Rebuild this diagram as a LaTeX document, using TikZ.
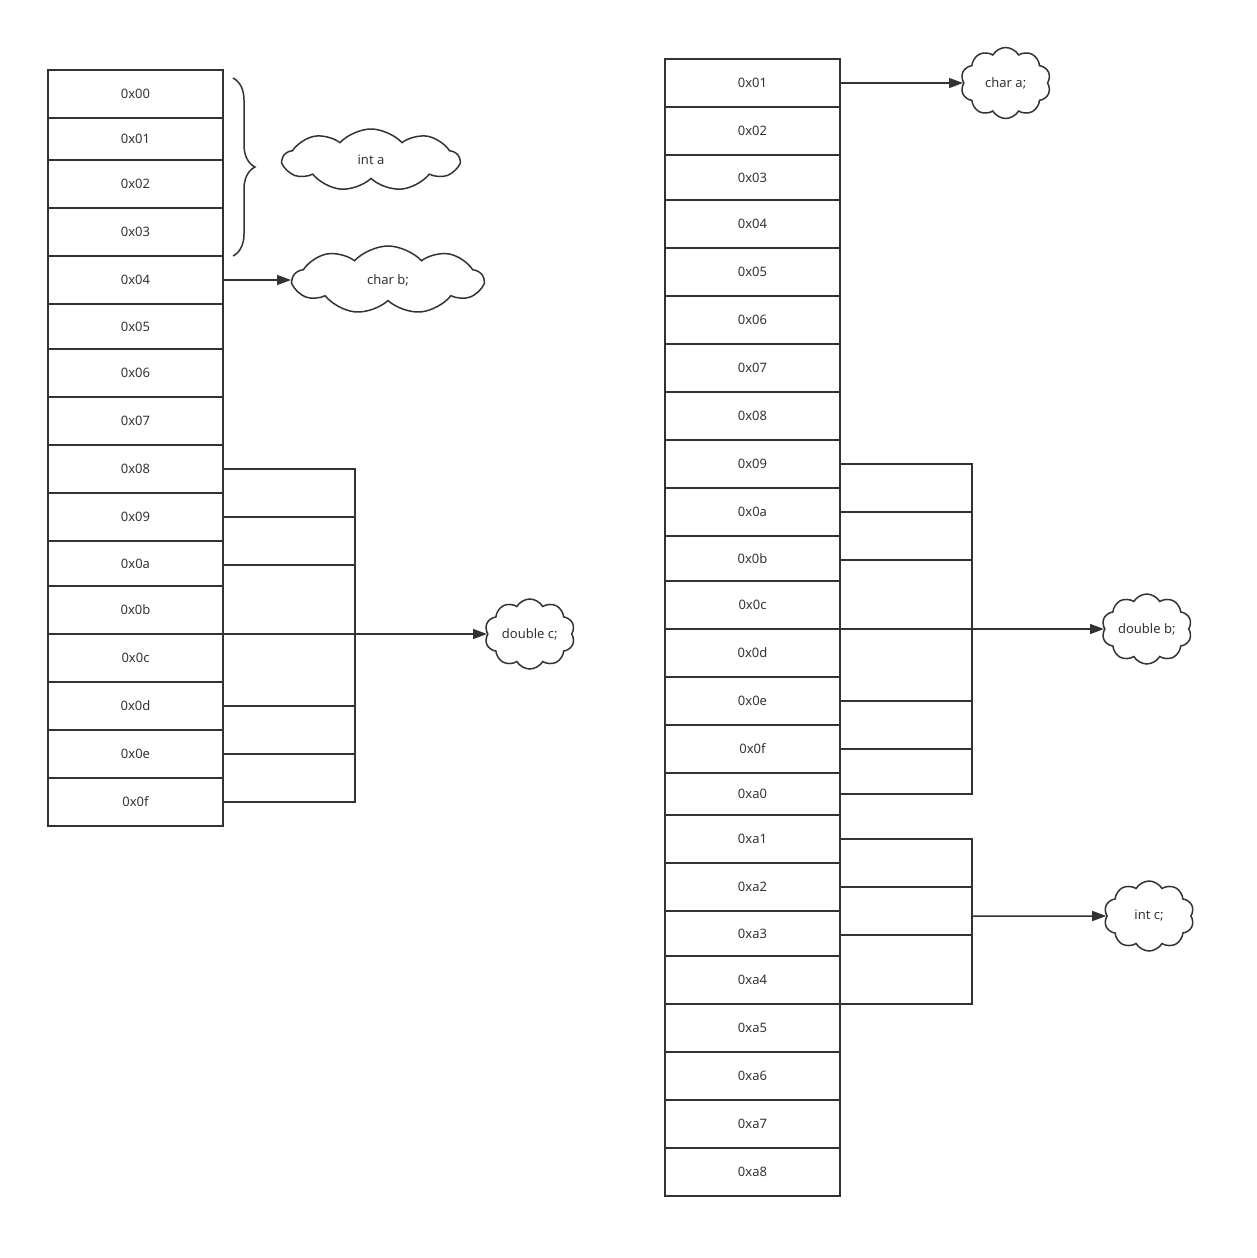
\documentclass[tikz,border=0pt]{standalone}
\usepackage{fontspec}
\setmainfont{Noto Sans}
\usepackage{xcolor}
\usepackage{tikz}
\usetikzlibrary{arrows.meta,positioning,calc}
\usetikzlibrary{shapes.symbols,decorations.pathreplacing}
\definecolor{ink}{HTML}{333333}
\tikzset{
  memcell/.style={rectangle,draw=ink,line width=1.5pt,outer sep=0pt,inner sep=0pt,
    minimum width=175pt,minimum height=48pt,text=ink,font=\fontsize{13}{15}\selectfont},
  shortcell/.style={memcell,minimum height=45pt},
  tinycell/.style={memcell,minimum height=42pt},
  memline/.style={draw=ink,line width=1.5pt},
  memarrow/.style={memline,-{Triangle[length=14pt,width=10pt]}},
  vartag/.style={cloud,cloud puffs=10,cloud puff arc=120,cloud ignores aspect,draw=ink,
    line width=1.5pt,inner sep=0pt,text=ink,font=\fontsize{13}{15}\selectfont},
  widetag/.style={vartag,cloud puffs=9,cloud puff arc=95}
}
\begin{document}
\begin{tikzpicture}[x=1pt,y=-1pt,node distance=0pt]
  \useasboundingbox (0,0) rectangle (1257,1258);
  % left memory
  \node[memcell,anchor=north] (l00) at (135.5,70) {0x00};
  \node[tinycell,below=of l00] (l01) {0x01};
  \node[memcell,below=of l01] (l02) {0x02};
  \node[memcell,below=of l02] (l03) {0x03};
  \node[memcell,below=of l03] (l04) {0x04};
  \node[shortcell,below=of l04] (l05) {0x05};
  \node[memcell,below=of l05] (l06) {0x06};
  \node[memcell,below=of l06] (l07) {0x07};
  \node[memcell,below=of l07] (l08) {0x08};
  \node[memcell,below=of l08] (l09) {0x09};
  \node[shortcell,below=of l09] (l0a) {0x0a};
  \node[memcell,below=of l0a] (l0b) {0x0b};
  \node[memcell,below=of l0b] (l0c) {0x0c};
  \node[memcell,below=of l0c] (l0d) {0x0d};
  \node[memcell,below=of l0d] (l0e) {0x0e};
  \node[memcell,below=of l0e] (l0f) {0x0f};
  % right memory
  \node[memcell,anchor=north] (r01) at (752.5,59) {0x01};
  \node[memcell,below=of r01] (r02) {0x02};
  \node[shortcell,below=of r02] (r03) {0x03};
  \node[memcell,below=of r03] (r04) {0x04};
  \node[memcell,below=of r04] (r05) {0x05};
  \node[memcell,below=of r05] (r06) {0x06};
  \node[memcell,below=of r06] (r07) {0x07};
  \node[memcell,below=of r07] (r08) {0x08};
  \node[memcell,below=of r08] (r09) {0x09};
  \node[memcell,below=of r09] (r0a) {0x0a};
  \node[shortcell,below=of r0a] (r0b) {0x0b};
  \node[memcell,below=of r0b] (r0c) {0x0c};
  \node[memcell,below=of r0c] (r0d) {0x0d};
  \node[memcell,below=of r0d] (r0e) {0x0e};
  \node[memcell,below=of r0e] (r0f) {0x0f};
  \node[tinycell,below=of r0f] (ra0) {0xa0};
  \node[memcell,below=of ra0] (ra1) {0xa1};
  \node[memcell,below=of ra1] (ra2) {0xa2};
  \node[shortcell,below=of ra2] (ra3) {0xa3};
  \node[memcell,below=of ra3] (ra4) {0xa4};
  \node[memcell,below=of ra4] (ra5) {0xa5};
  \node[memcell,below=of ra5] (ra6) {0xa6};
  \node[memcell,below=of ra6] (ra7) {0xa7};
  \node[memcell,below=of ra7] (ra8) {0xa8};
  % variables
  \node[widetag,minimum width=176pt,minimum height=62pt] (inta) at (371,160) {int a};
  \node[widetag,minimum width=190pt,minimum height=68pt,right=68pt of l04] (charb) {char b;};
  \node[vartag,minimum width=90pt,minimum height=70pt,right=264pt of l0b.south east] (doublec) {double c;};
  \node[vartag,minimum width=90pt,minimum height=71pt,right=123pt of r01] (chara) {char a;};
  \node[vartag,minimum width=90pt,minimum height=70pt,right=264pt of r0c.south east] (doubleb) {double b;};
  \node[vartag,minimum width=90pt,minimum height=70pt] (intc) at (1149,916) {int c;};
  % int a
  \draw[memline,decorate,decoration={brace,amplitude=22pt}]
    ([xshift=10pt,yshift=-8pt]l00.north east) -- ([xshift=10pt]l03.south east);
  % char b, char a
  \draw[memarrow] (l04.east) -- (charb);
  \draw[memarrow] (r01.east) -- (chara);
  % double c
  \coordinate[right=132pt of l08.east] (jc);
  \draw[memline] (l08.east) -- (jc) -- (jc |- l0f.east) -- (l0f.east);
  \draw[memline] (l09.east) -- (jc |- l09.east);
  \draw[memline] ([yshift=-1.5pt]l0a.east) -- ([yshift=-1.5pt]jc |- l0a.east);
  \draw[memline] (l0d.east) -- (jc |- l0d.east);
  \draw[memline] (l0e.east) -- (jc |- l0e.east);
  \draw[memarrow] (l0b.south east) -- (doublec);
  % double b
  \coordinate[right=132pt of r09.east] (jb);
  \draw[memline] (r09.east) -- (jb) -- (jb |- ra0.east) -- (ra0.east);
  \draw[memline] (r0a.east) -- (jb |- r0a.east);
  \draw[memline] ([yshift=-1.5pt]r0b.east) -- ([yshift=-1.5pt]jb |- r0b.east);
  \draw[memline] (r0e.east) -- (jb |- r0e.east);
  \draw[memline] (r0f.east) -- (jb |- r0f.east);
  \draw[memarrow] (r0c.south east) -- (doubleb);
  % int c
  \coordinate[right=132pt of ra1.east] (jd);
  \draw[memline] (ra1.east) -- (jd) -- (jd |- ra4.south east) -- (ra4.south east);
  \draw[memline] (ra2.east) -- (jd |- ra2.east);
  \draw[memline] ([yshift=-1.5pt]ra3.east) -- ([yshift=-1.5pt]jd |- ra3.east);
  \draw[memarrow] (jd |- intc) -- (intc);
\end{tikzpicture}
\end{document}
